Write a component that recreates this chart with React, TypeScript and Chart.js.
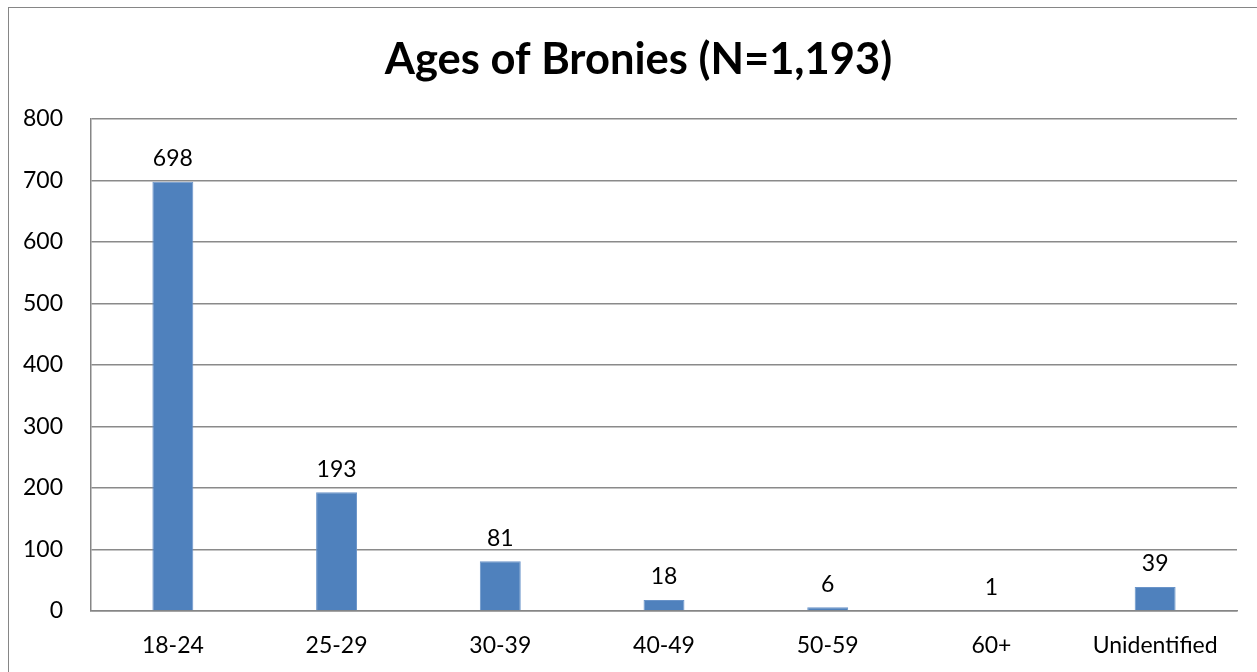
import React, { useEffect, useRef } from "react";
import { Chart, registerables } from "chart.js";

Chart.register(...registerables);

const categories = ["18-24", "25-29", "30-39", "40-49", "50-59", "60+", "Unidentified"];
const counts = [698, 193, 81, 18, 6, 1, 39];
const yMin = 0;
const yMax = 800;
const yStep = 100;
const titleText = "Ages of Bronies (N=1,193)";

const FONT = "Lato";
const LABEL_SIZE = 23;

const valueLabels = {
  id: "valueLabels",
  afterDatasetsDraw(chart: any) {
    const { ctx } = chart;
    const meta = chart.getDatasetMeta(0);
    const data = chart.data.datasets[0].data;
    ctx.save();
    ctx.font = `${LABEL_SIZE}px ${FONT}`;
    ctx.fillStyle = "#000";
    ctx.textAlign = "center";
    ctx.textBaseline = "middle";
    meta.data.forEach((bar: any, i: number) => {
      ctx.fillText(String(data[i]), bar.x, bar.y - 23);
    });
    ctx.restore();
  },
};

export default function App() {
  const ref = useRef<HTMLCanvasElement>(null);
  useEffect(() => {
    if (!ref.current) return;
    const chart = new Chart(ref.current, {
      type: "bar",
      data: {
        labels: categories,
        datasets: [
          {
            data: counts,
            backgroundColor: "#4F81BD",
            borderColor: "#6A94C9",
            borderWidth: 1,
            barPercentage: 0.25,
            categoryPercentage: 1,
            yAxisID: "y",
          },
        ],
      },
      options: {
        animation: false,
        responsive: false,
        layout: { padding: 0 },
        plugins: {
          legend: { display: false },
          tooltip: { enabled: false },
          title: {
            display: true,
            text: titleText,
            color: "#000",
            font: { family: FONT, size: 43.5, weight: "bold", lineHeight: 1.2 },
            padding: { top: 26, bottom: 32.8 },
          },
        },
        scales: {
          x: {
            grid: { display: true, color: "rgba(0,0,0,0)", drawTicks: false },
            border: { display: true, color: "#868686", width: 1.5 },
            ticks: { color: "#000", font: { family: FONT, size: LABEL_SIZE }, padding: 21, maxRotation: 0 },
            afterFit(scale: any) {
              scale.height = 62;
            },
          },
          y: {
            position: "left",
            min: yMin,
            max: yMax,
            grid: { color: "#8a8a8a", lineWidth: 1.5, drawTicks: false },
            border: { display: true, color: "#868686", width: 1.5 },
            ticks: { stepSize: yStep, color: "#000", font: { family: FONT, size: LABEL_SIZE }, padding: 28 },
            afterFit(scale: any) {
              scale.width = 82;
            },
          },
          yRightSpace: {
            position: "right",
            display: true,
            grid: { display: false, drawTicks: false },
            border: { display: false },
            ticks: { display: false },
            afterFit(scale: any) {
              scale.width = 31;
            },
          },
        },
      },
      plugins: [valueLabels],
    });
    return () => chart.destroy();
  }, []);

  return (
    <div
      style={{
        position: "fixed",
        left: 8,
        top: 7,
        width: 1272,
        height: 680,
        border: "1px solid #868686",
        background: "#fff",
        overflow: "hidden",
      }}
    >
      <canvas ref={ref} width={1259} height={665} style={{ display: "block" }} />
    </div>
  );
}
